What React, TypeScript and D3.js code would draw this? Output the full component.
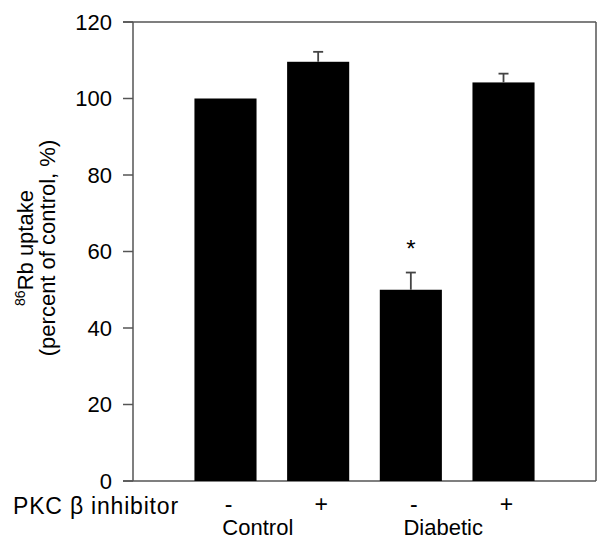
import React from 'react';
import * as d3 from 'd3';

// groups / treatment
const conditions = ['Control', 'Control', 'Diabetic', 'Diabetic'];
const inhibitor = ['-', '+', '-', '+'];
const uptake = [100, 109.6, 50, 104.2]; // % of control
const sem = [0, 2.6, 4.5, 2.3];
const significant = [false, false, true, false];
const yTicks = [0, 20, 40, 60, 80, 100, 120];

const W = 597;
const H = 539;

export default function App() {
  const left = 133;
  const right = 596;
  const top = 22;
  const bottom = 481;

  const ids = uptake.map((_, i) => String(i));
  const x = d3.scaleBand().domain(ids).range([left, right]).paddingInner(0.33).paddingOuter(0.663);
  const y = d3.scaleLinear().domain([0, 120]).range([bottom, top]);

  const font = 'Liberation Sans, Arial, Helvetica, sans-serif';
  const axisColor = '#555';

  // group labels sit a little left of the middle of their two bars
  const groups = Array.from(new Set(conditions));
  const groupCenter = (g: string) => {
    const idx = conditions.map((c, i) => (c === g ? i : -1)).filter((i) => i >= 0);
    return d3.mean(idx, (i) => x(String(i))! + x.bandwidth() / 2)! - 14;
  };

  return (
    <svg width={W} height={H} style={{ position: 'absolute', left: 0, top: 0 }} fontFamily={font}>
      <rect width={W} height={H} fill="#fff" />

      {/* frame */}
      <line x1={left - 10} x2={right} y1={top} y2={top} stroke={axisColor} strokeWidth={1.5} />
      <line x1={right} x2={right} y1={top} y2={bottom} stroke={axisColor} strokeWidth={1.5} />
      <line x1={left - 10} x2={right} y1={bottom} y2={bottom} stroke={axisColor} strokeWidth={1.5} />
      <line x1={left} x2={left} y1={top} y2={bottom} stroke={axisColor} strokeWidth={1.5} />

      {/* y ticks */}
      {yTicks.map((t) => (
        <g key={t}>
          <line x1={left - 10} x2={left} y1={y(t)} y2={y(t)} stroke={axisColor} strokeWidth={1.5} />
          <text x={112} y={y(t)} dy="0.36em" textAnchor="end" fontSize={22} fill="#000">
            {t}
          </text>
        </g>
      ))}

      {/* y title */}
      <g transform={`translate(33, 248) rotate(-90)`}>
        <text textAnchor="middle" fontSize={22} fill="#000">
          <tspan fontSize={14} dy="-8">86</tspan>
          <tspan dy="8">Rb uptake</tspan>
        </text>
        <text y={22} textAnchor="middle" fontSize={22} fill="#000">
          (percent of control, %)
        </text>
      </g>

      {/* bars */}
      {uptake.map((v, i) => {
        const bx = x(String(i))!;
        const cx = bx + x.bandwidth() / 2;
        return (
          <g key={i}>
            <rect x={bx} y={y(v)} width={x.bandwidth()} height={y(0) - y(v)} fill="#000" />
            {sem[i] > 0 && (
              <g stroke="#444" strokeWidth={1.8}>
                <line x1={cx} x2={cx} y1={y(v)} y2={y(v + sem[i])} />
                <line x1={cx - 5} x2={cx + 5} y1={y(v + sem[i])} y2={y(v + sem[i])} />
              </g>
            )}
            {significant[i] && (
              <text x={cx} y={y(v + sem[i]) - 16} textAnchor="middle" fontSize={24} fill="#000">
                *
              </text>
            )}
          </g>
        );
      })}

      {/* x labels */}
      <text x={13} y={514} fontSize={23} letterSpacing={0.8} fill="#000">
        PKC β inhibitor
      </text>
      {inhibitor.map((s, i) => (
        <text key={i} x={x(String(i))! + x.bandwidth() / 2 + 3} y={512} textAnchor="middle" fontSize={23} fill="#000">
          {s}
        </text>
      ))}
      {groups.map((g) => (
        <text key={g} x={groupCenter(g)} y={535} textAnchor="middle" fontSize={22} fill="#000">
          {g}
        </text>
      ))}
    </svg>
  );
}
